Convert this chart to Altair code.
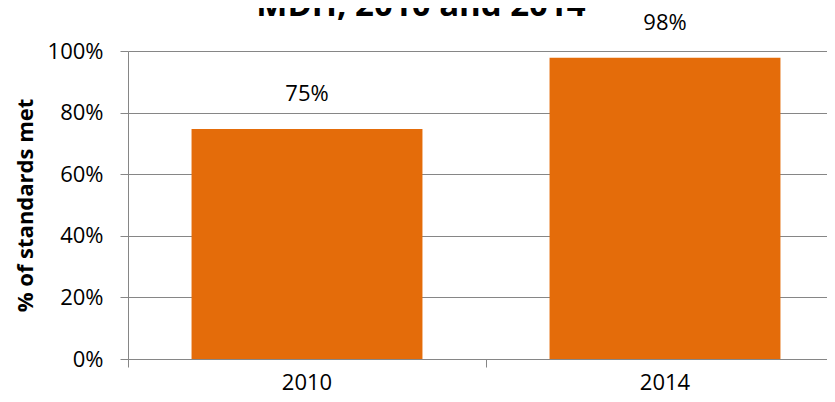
import altair as alt
import pandas as pd

years = ["2010", "2014"]
values = [0.747, 0.978]
labels = ["75%", "98%"]
title_text = ["MDH, 2010 and 2014"]

df = pd.DataFrame({"year": years, "value": values, "label": labels})

FONT = "Open Sans"
GRAY = "#868686"

base = alt.Chart(df).encode(
    x=alt.X(
        "year:N",
        sort=years,
        scale=alt.Scale(paddingInner=0, paddingOuter=0, range=[0, 716]),
        axis=alt.Axis(
            title=None,
            labelAngle=0,
            labelFontSize=22,
            labelFont=FONT,
            labelColor="#000000",
            labelPadding=5,
            tickSize=8,
            tickColor=GRAY,
            domainColor=GRAY,
            bandPosition=0,
            grid=False,
        ),
    ),
    y=alt.Y(
        "value:Q",
        scale=alt.Scale(domain=[0, 1]),
        axis=alt.Axis(
            title="% of standards met",
            titleFont=FONT,
            titleFontSize=22,
            titleFontWeight="bold",
            titleColor="#000000",
            titlePadding=10,
            format=".0%",
            values=[0, 0.2, 0.4, 0.6, 0.8, 1.0],
            labelFont=FONT,
            labelFontSize=22,
            labelColor="#000000",
            labelPadding=17,
            tickSize=8,
            tickColor=GRAY,
            domainColor=GRAY,
            gridColor=GRAY,
            gridOpacity=1,
            grid=True,
        ),
    ),
)

bars = base.mark_bar(color="#E46C0A", width={"band": 0.645})
text = base.mark_text(
    font=FONT, fontSize=22, color="#000000", baseline="alphabetic", dy=-28
).encode(text="label:N")

title_df = pd.DataFrame({"t": title_text})
title = alt.Chart(title_df).mark_text(
    font=FONT, fontSize=33, fontWeight="bold", color="#000000",
    baseline="alphabetic", align="center",
).encode(
    text="t:N",
    x=alt.value(293),
    y=alt.value(-35),
)

chart = (
    (bars + text + title)
    .properties(
        width=699,
        height=308,
        autosize=alt.AutoSizeParams(type="none"),
        padding={"left": 120, "top": 43, "right": 0, "bottom": 35},
    )
    .configure_view(stroke=None)
)

chart.save("out.html", embed_options={"renderer": "svg", "actions": False})
